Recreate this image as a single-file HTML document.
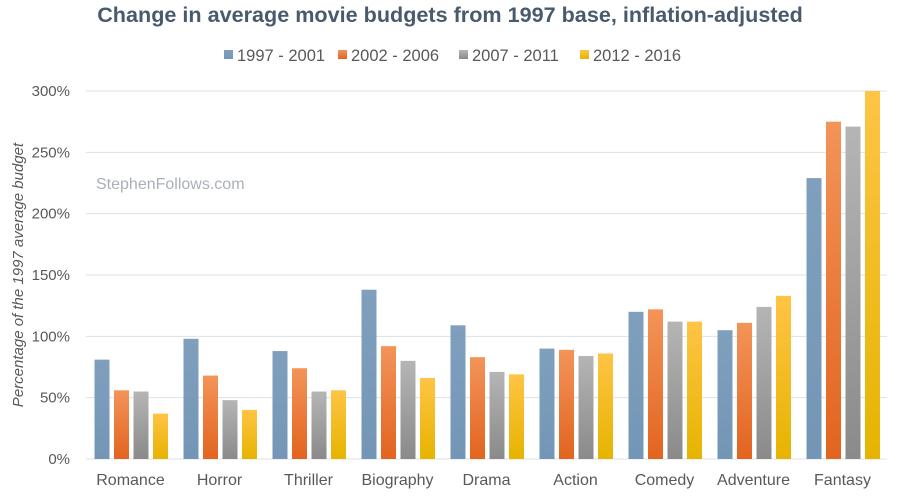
<!DOCTYPE html>
<html><head><meta charset="utf-8"><style>
body{margin:0;background:#fff;font-family:"Liberation Sans",sans-serif}
svg text{font-family:"Liberation Sans",sans-serif}
</style></head><body>
<svg width="900" height="497" xmlns="http://www.w3.org/2000/svg">
<defs>
<linearGradient id="g0" x1="0" y1="0" x2="0" y2="1"><stop offset="0" stop-color="#7f9fbd"/><stop offset="1" stop-color="#7496b6"/></linearGradient>
<linearGradient id="g1" x1="0" y1="0" x2="0" y2="1"><stop offset="0" stop-color="#f39459"/><stop offset="1" stop-color="#e2641f"/></linearGradient>
<linearGradient id="g2" x1="0" y1="0" x2="0" y2="1"><stop offset="0" stop-color="#b5b5b5"/><stop offset="1" stop-color="#8a8a8a"/></linearGradient>
<linearGradient id="g3" x1="0" y1="0" x2="0" y2="1"><stop offset="0" stop-color="#ffc445"/><stop offset="1" stop-color="#e6b400"/></linearGradient>
</defs>
<text x="450" y="22" text-anchor="middle" font-size="21.6" font-weight="bold" fill="#4a5a6e">Change in average movie budgets from 1997 base, inflation-adjusted</text>
<text x="96" y="189" font-size="16" fill="#aab0b8">StephenFollows.com</text>
<text transform="translate(23,275) rotate(-90)" text-anchor="middle" font-size="15" font-style="italic" fill="#595959">Percentage of the 1997 average budget</text>
<g id="grid"></g><g id="bars"></g><g id="xl"></g><g id="legend"></g>
</svg>
<script>
const categories=["Romance","Horror","Thriller","Biography","Drama","Action","Comedy","Adventure","Fantasy"];
const seriesNames=["1997 - 2001","2002 - 2006","2007 - 2011","2012 - 2016"];
const s1=[81,98,88,138,109,90,120,105,229];
const s2=[56,68,74,92,83,89,122,111,275];
const s3=[55,48,55,80,71,84,112,124,271];
const s4=[37,40,56,66,69,86,112,133,300];
const yTicks=[0,50,100,150,200,250,300];
const series=[s1,s2,s3,s4];
const NS="http://www.w3.org/2000/svg";
const L=86,R=887,B=459,T=91;
const y=v=>B-(v/300)*(B-T);
const gw=(R-L)/categories.length;
const x=(i,j)=>L+gw*i+8.5+j*19.5;
function mk(t,a,p){const e=document.createElementNS(NS,t);for(const k in a)e.setAttribute(k,a[k]);p.appendChild(e);return e;}
const grid=document.getElementById('grid');
yTicks.forEach(v=>{
 const l=mk('line',{x1:L,x2:R,y1:y(v),y2:y(v),stroke:'#dfe1e5','stroke-width':1},grid);
 
 
 const t=mk('text',{x:70,y:y(v)+5,'text-anchor':'end','font-size':15,fill:'#595959'},grid);
 t.textContent=v+'%';
 
 
});
const bars=document.getElementById('bars');
series.forEach((s,j)=>s.forEach((v,i)=>{
 const r=mk('rect',{x:x(i,j),y:y(v),width:15,height:B-y(v),fill:'url(#g'+j+')'},bars);
 
 
}));
const xl=document.getElementById('xl');
categories.forEach((c,i)=>{
 const t=mk('text',{x:L+gw*(i+0.5),y:485,'text-anchor':'middle','font-size':16,fill:'#595959'},xl);
 t.textContent=c;
 
 
});
const lg=document.getElementById('legend');
const lx=[224,338,459,580];
seriesNames.forEach((n,j)=>{
 const g=mk('g',{},lg);
 
 
 mk('rect',{x:lx[j],y:50,width:9,height:9,fill:'url(#g'+j+')'},g);
 const t=mk('text',{x:lx[j]+13,y:61,'font-size':16.5,fill:'#595959'},g);
 t.textContent=n;
});
</script>
</body></html>
